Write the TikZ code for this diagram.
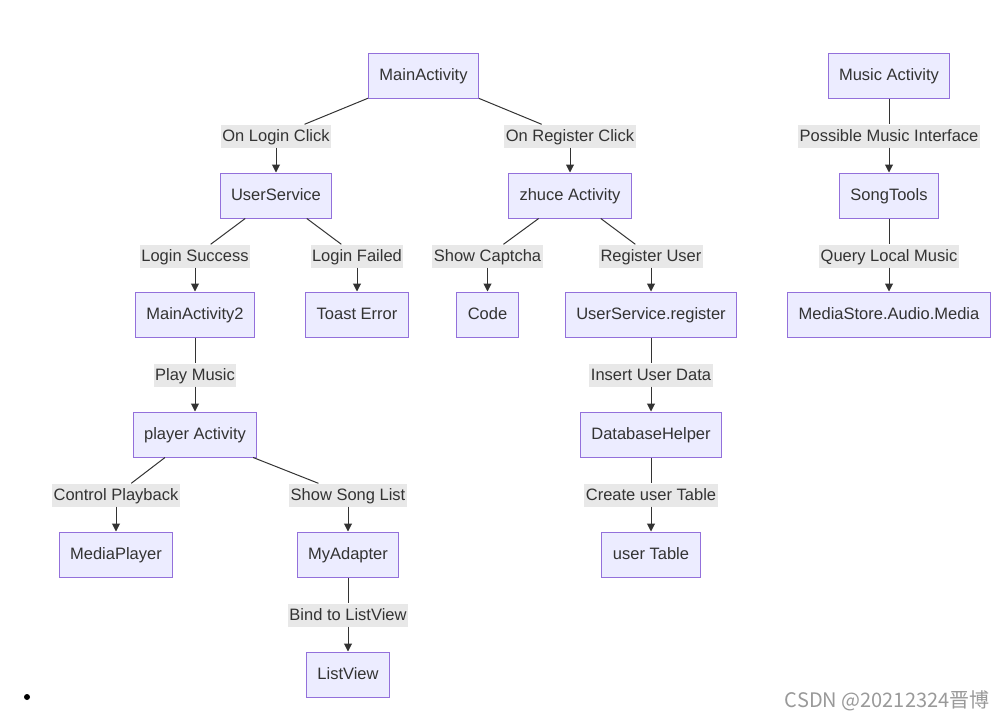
\documentclass[tikz,border=0pt]{standalone}
\usepackage{fontspec}
\setmainfont{Liberation Sans}
\newfontfamily\cjk{Noto Sans CJK SC}
\usetikzlibrary{arrows.meta}
\definecolor{boxFill}{HTML}{ECECFF}
\definecolor{boxLine}{HTML}{9370DB}
\definecolor{labelFill}{HTML}{E8E8E8}
\definecolor{edgeLine}{HTML}{333333}
\begin{document}
\begin{tikzpicture}[x = 1pt, y = -1pt]
\tikzstyle{VertexStyle} = [draw = boxLine, fill = boxFill, line width = 1pt, minimum height = 45pt, inner xsep = 11pt, text height = 11pt, text depth = 1pt, text = edgeLine, font = \fontsize{16.5}{19}\selectfont]
\tikzstyle{LabelStyle} = [fill = labelFill, inner xsep = 1.5pt, minimum height = 23pt, text height = 11pt, text depth = 1pt, text = edgeLine, font = \fontsize{16.5}{19}\selectfont]
\tikzstyle{EdgeStyle} = [draw = edgeLine, line width = 1pt]
\tikzstyle{ArrowStyle} = [EdgeStyle, -{Triangle[length = 8pt, width = 8pt]}]
\useasboundingbox (0, 0) rectangle (1007, 720);
\node[VertexStyle] (v0) at (423.5, 75.5) {MainActivity};
\node[VertexStyle] (v1) at (276, 195.5) {UserService};
\node[VertexStyle] (v2) at (570, 195.5) {zhuce Activity};
\node[VertexStyle] (v3) at (195, 314.5) {MainActivity2};
\node[VertexStyle] (v4) at (357, 314.5) {Toast Error};
\node[VertexStyle] (v5) at (487.5, 314.5) {Code};
\node[VertexStyle] (v6) at (651, 314.5) {UserService.register};
\node[VertexStyle] (v7) at (195, 434.5) {player Activity};
\node[VertexStyle] (v8) at (651, 434.5) {DatabaseHelper};
\node[VertexStyle] (v9) at (116, 554.5) {MediaPlayer};
\node[VertexStyle] (v10) at (348, 554.5) {MyAdapter};
\node[VertexStyle] (v11) at (651, 554.5) {user Table};
\node[VertexStyle] (v12) at (348, 674.5) {ListView};
\node[VertexStyle] (v13) at (889, 75.5) {Music Activity};
\node[VertexStyle] (v14) at (889, 195.5) {SongTools};
\node[VertexStyle] (v15) at (889, 314.5) {MediaStore.Audio.Media};
\node[LabelStyle] (l0) at (276, 136) {On Login Click};
\node[LabelStyle] (l1) at (570, 136) {On Register Click};
\node[LabelStyle] (l2) at (195, 256) {Login Success};
\node[LabelStyle] (l3) at (357, 256) {Login Failed};
\node[LabelStyle] (l4) at (487.5, 256) {Show Captcha};
\node[LabelStyle] (l5) at (651, 256) {Register User};
\node[LabelStyle] (l6) at (195, 375) {Play Music};
\node[LabelStyle] (l7) at (651, 375) {Insert User Data};
\node[LabelStyle] (l8) at (116, 495) {Control Playback};
\node[LabelStyle] (l9) at (348, 495) {Show Song List};
\node[LabelStyle] (l10) at (651, 495) {Create user Table};
\node[LabelStyle] (l11) at (348, 615) {Bind to ListView};
\node[LabelStyle] (l12) at (889, 136) {Possible Music Interface};
\node[LabelStyle] (l13) at (889, 256) {Query Local Music};
\draw[EdgeStyle] (v0) -- (l0); \draw[ArrowStyle] (l0) -- (v1);
\draw[EdgeStyle] (v0) -- (l1); \draw[ArrowStyle] (l1) -- (v2);
\draw[EdgeStyle] (v1) -- (l2); \draw[ArrowStyle] (l2) -- (v3);
\draw[EdgeStyle] (v1) -- (l3); \draw[ArrowStyle] (l3) -- (v4);
\draw[EdgeStyle] (v2) -- (l4); \draw[ArrowStyle] (l4) -- (v5);
\draw[EdgeStyle] (v2) -- (l5); \draw[ArrowStyle] (l5) -- (v6);
\draw[EdgeStyle] (v3) -- (l6); \draw[ArrowStyle] (l6) -- (v7);
\draw[EdgeStyle] (v6) -- (l7); \draw[ArrowStyle] (l7) -- (v8);
\draw[EdgeStyle] (v7) -- (l8); \draw[ArrowStyle] (l8) -- (v9);
\draw[EdgeStyle] (v7) -- (l9); \draw[ArrowStyle] (l9) -- (v10);
\draw[EdgeStyle] (v8) -- (l10); \draw[ArrowStyle] (l10) -- (v11);
\draw[EdgeStyle] (v10) -- (l11); \draw[ArrowStyle] (l11) -- (v12);
\draw[EdgeStyle] (v13) -- (l12); \draw[ArrowStyle] (l12) -- (v14);
\draw[EdgeStyle] (v14) -- (l13); \draw[ArrowStyle] (l13) -- (v15);
% list bullet and watermark
\fill (27, 697) circle (3pt);
\node[text = black!40, font = \cjk\fontsize{20}{23}\selectfont, anchor = east] (wm) at (993, 701) {CSDN @20212324晋博};
\end{tikzpicture}
\end{document}
